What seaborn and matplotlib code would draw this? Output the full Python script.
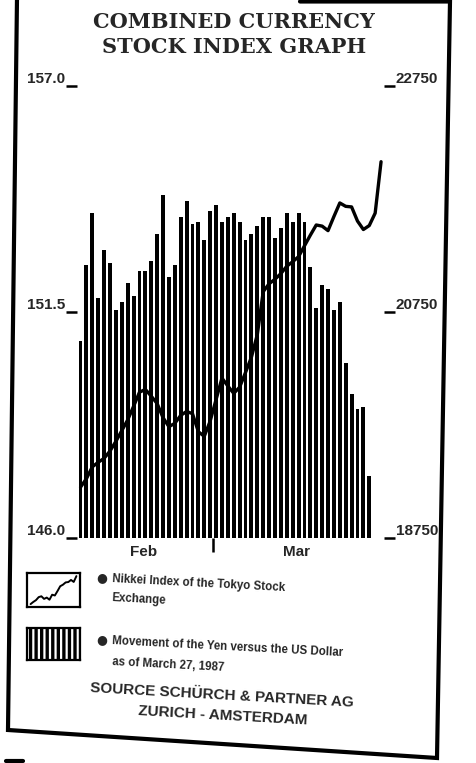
import numpy as np
import pandas as pd
import matplotlib
matplotlib.use("Agg")
import matplotlib.pyplot as plt
from matplotlib.lines import Line2D
from matplotlib.patches import Rectangle
import seaborn as sns

# ---------------- data ----------------
# Yen per US dollar, daily bars (left axis)
yen = [150.8, 152.65, 153.9, 151.85, 153.0, 152.7, 151.55, 151.75, 152.2, 151.9,
       152.5, 152.5, 152.75, 153.4, 154.35, 152.35, 152.65, 153.8, 154.2, 153.65,
       153.7, 153.25, 153.95, 154.1, 153.7, 153.8, 153.9, 153.7, 153.25, 153.4,
       153.6, 153.8, 153.8, 153.3, 153.55, 153.9, 153.7, 153.9, 153.7, 152.6,
       151.6, 152.15, 152.05, 151.55, 151.75, 150.25, 149.5, 149.15, 149.2, 147.5]
# Nikkei index, daily line (right axis)
nikkei = [19200, 19275, 19380, 19420, 19455, 19520, 19605, 19700, 19795, 19915,
          20040, 20065, 20005, 19940, 19815, 19735, 19765, 19835, 19870, 19850,
          19690, 19650, 19785, 19975, 20165, 20095, 20030, 20085, 20215, 20350,
          20550, 20930, 21000, 21040, 21090, 21155, 21195, 21240, 21335, 21430,
          21520, 21510, 21470, 21595, 21715, 21685, 21680, 21555, 21480, 21515,
          21625, 22080]
yen_ticks = [146.0, 151.5, 157.0]
nikkei_ticks = [18750, 20750, 22750]
months = ["Feb", "Mar"]
month_pos = [10.7, 36.6]
month_sep = [22.5]

title_lines = ["COMBINED CURRENCY", "STOCK INDEX GRAPH"]
legend_line_text = ["Nikkei Index of the Tokyo Stock", "Exchange"]
legend_bar_text = ["Movement of the Yen versus the US Dollar", "as of March 27, 1987"]
source_text = ["SOURCE SCHÜRCH & PARTNER AG", "ZURICH - AMSTERDAM"]

bars_df = pd.DataFrame({"day": np.arange(len(yen)), "yen": yen})
line_df = pd.DataFrame({"day": np.arange(len(nikkei)), "nikkei": nikkei})

# ---------------- figure ----------------
sns.set_style("white")
plt.rcParams["font.family"] = ["Liberation Sans", "DejaVu Sans"]
W, H = 476, 763
fig = plt.figure(figsize=(W / 100, H / 100), dpi=100)
fig.patch.set_facecolor("white")

def fx(x):
    return x / W

def fy(y):
    return 1 - y / H

ax_l, ax_r, ax_t, ax_b = 77, 384, 86, 538
ax = fig.add_axes([fx(ax_l), fy(ax_b), (ax_r - ax_l) / W, (ax_b - ax_t) / H])
ax.set_facecolor("none")

sns.barplot(data=bars_df, x="day", y="yen", color="black", width=0.66,
            native_scale=True, errorbar=None, ax=ax, saturation=1)
for p in ax.patches:
    p.set_edgecolor("none")
ax.set_ylim(146.0, 157.0)

ax2 = ax.twinx()
sns.lineplot(data=line_df, x="day", y="nikkei", color="black", linewidth=2.4,
             ax=ax2, solid_joinstyle="round", solid_capstyle="round")
ax2.set_ylim(18750, 22750)
ax.set_xlim(-0.6, 51.5)

for a in (ax, ax2):
    for s in a.spines.values():
        s.set_visible(False)
    a.set_xlabel("")
    a.set_ylabel("")
    a.grid(False)

tick_font = dict(fontsize=11, fontweight="bold")
ax.set_yticks(yen_ticks)
ax.set_yticklabels([f"{v:.1f}" for v in yen_ticks], **tick_font)
ax.tick_params(axis="y", left=True, length=8, width=1.8, pad=0.5, color="black")
for lab in ax.get_yticklabels():
    lab.set_va("bottom")
ax2.set_yticks(nikkei_ticks)
ax2.set_yticklabels([f"{v}" for v in nikkei_ticks], **tick_font)
ax2.tick_params(axis="y", right=True, length=8, width=1.8, pad=0.5, color="black")
for lab in ax2.get_yticklabels():
    lab.set_va("bottom")

ax.set_xticks(month_sep)
ax.set_xticklabels([""])
ax.set_xticks(month_pos, minor=True)
ax.set_xticklabels(months, minor=True, fontsize=11, fontweight="bold")
ax.tick_params(axis="x", which="major", bottom=True, length=10, width=1.8, color="black")
ax.tick_params(axis="x", which="minor", bottom=False, length=0, pad=5)

# ---------------- title ----------------
for i, t in enumerate(title_lines):
    fig.text(fx(234), fy(22 + 25 * i), t, ha="center", va="center",
             fontsize=15, fontweight="heavy", family=["DejaVu Serif"])

# ---------------- legend ----------------
icon1 = fig.add_axes([fx(27), fy(607), 53 / W, 34 / H])
sns.lineplot(data=line_df.iloc[::3], x="day", y="nikkei", color="black",
             linewidth=1.4, ax=icon1)
icon1.set_xlim(-4, 55)
icon1.set_ylim(18900, 22400)
icon2 = fig.add_axes([fx(27), fy(660), 53 / W, 32 / H])
plt.rcParams["hatch.linewidth"] = 2.4
icon2.add_patch(Rectangle((0, 0), 1, 1, transform=icon2.transAxes, facecolor="white",
                          edgecolor="black", hatch="|||", lw=0))
for a in (icon1, icon2):
    a.set_xticks([])
    a.set_yticks([])
    a.set_xlabel("")
    a.set_ylabel("")
    for s in a.spines.values():
        s.set_visible(True)
        s.set_linewidth(1.6)
        s.set_color("black")

leg_font = dict(fontsize=8.3, fontweight="bold", rotation=-3, rotation_mode="anchor",
                ha="left", va="center")
fig.text(fx(96), fy(578), "●", fontsize=9, ha="left", va="center", family=["DejaVu Sans"])
fig.text(fx(112), fy(579), legend_line_text[0], **leg_font)
fig.text(fx(112), fy(598), legend_line_text[1], **leg_font)
fig.text(fx(96), fy(640), "●", fontsize=9, ha="left", va="center", family=["DejaVu Sans"])
fig.text(fx(112), fy(641), legend_bar_text[0], **leg_font)
fig.text(fx(112), fy(662), legend_bar_text[1], **leg_font)

src_font = dict(fontsize=11, fontweight="bold", rotation=-3.2, rotation_mode="anchor",
                ha="center", va="center")
fig.text(fx(222), fy(695), source_text[0], **src_font)
fig.text(fx(223), fy(716), source_text[1], **src_font)

# ---------------- frame ----------------
frame_x = [300, 450, 437, 8, 17]
frame_y = [1.5, 1.5, 758, 730, -2]
fig.add_artist(Line2D([fx(v) for v in frame_x], [fy(v) for v in frame_y],
                      transform=fig.transFigure, color="black", lw=3.0,
                      solid_joinstyle="miter"))
fig.add_artist(Line2D([fx(6), fx(23)], [fy(761), fy(761)], transform=fig.transFigure,
                      color="black", lw=3.0))

fig.savefig("out.png", dpi=100, facecolor="white")
